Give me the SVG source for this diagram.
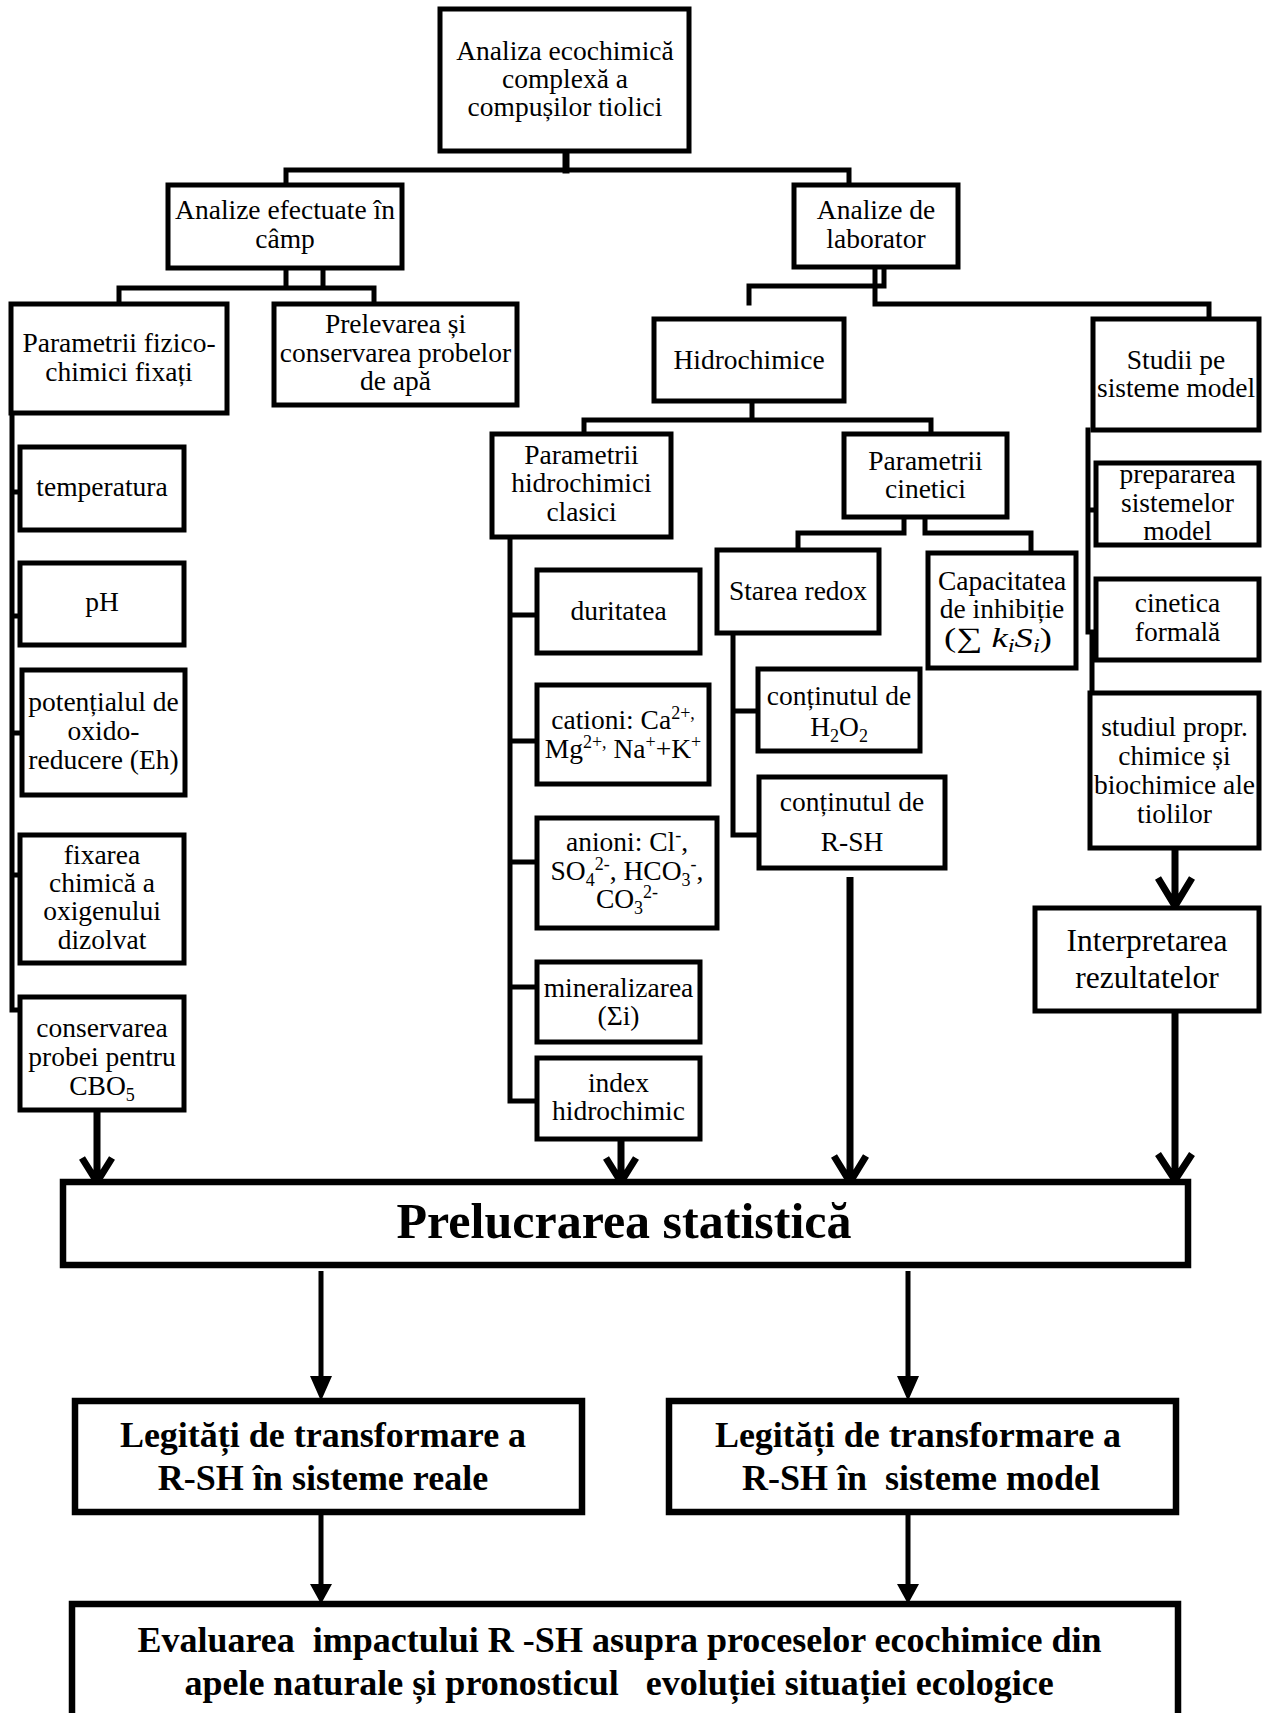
<svg xmlns="http://www.w3.org/2000/svg" width="1272" height="1713" viewBox="0 0 1272 1713">
<style>
.b{fill:#fff;stroke:#000;stroke-width:5}
.bb{fill:#fff;stroke:#000;stroke-width:6.5}
.c{fill:none;stroke:#000;stroke-width:5;stroke-linecap:square}
.a{fill:none;stroke:#000;stroke-width:7;stroke-linejoin:miter}
.a2{fill:none;stroke:#000;stroke-width:5}
.h{fill:#000;stroke:none}
text{font-family:"Liberation Serif","Times New Roman",serif;font-size:27.5px;text-anchor:middle;fill:#000}
.bt{font-weight:bold;font-size:36px}
.big{font-weight:bold;font-size:50px}
.s{font-size:18px}
.it{font-style:italic}
</style>
<rect width="1272" height="1713" fill="#fff"/>

<g id="connectors">
<path class="c" d="M566,151V170" style="stroke-width:7"/>
<path class="c" d="M286,170H849 M286,170V185 M849,170V185"/>
<path class="c" d="M286,268V288 M323,268V288 M119,288H374 M119,288V304 M374,288V304"/>
<path class="c" d="M884,267V286 M749,286H884 M749,286V303 M875,267V304 M875,304H1209 M1209,304V319"/>
<path class="c" d="M12,413V1010 M12,492H20 M12,616H20 M12,733H22 M12,875H20 M12,1010H20"/>
<path class="c" d="M752,401V420 M584,420H931 M584,420V434 M931,420V434"/>
<path class="c" d="M510,537V1101 M510,615H537 M510,741H537 M510,862H537 M510,987H537 M510,1101H537"/>
<path class="c" d="M904,517V533 M798,533H904 M798,533V550 M925,517V533 M925,533H1031 M1031,533V553"/>
<path class="c" d="M733,633V835 M733,711H758 M733,835H759"/>
<path class="c" d="M1088,430V632 M1088,510H1096 M1088,632H1096 M1092,632V693"/>
<path class="a" d="M97,1110V1180 M82,1158L97,1182L112,1158"/>
<path class="a" d="M621,1139V1180 M606,1158L621,1182L636,1158"/>
<path class="a" d="M850,877V1180 M834,1156L850,1182L866,1156"/>
<path class="a" d="M1175,848V904 M1158,878L1175,906L1192,878"/>
<path class="a" d="M1175,1011V1180 M1158,1154L1175,1180L1192,1154"/>
<path class="a2" d="M321,1271V1380 M908,1271V1380 M321,1512V1588 M908,1512V1588"/>
<path class="h" d="M310,1376H332L321,1401Z M897,1376H919L908,1401Z M310,1584H332L321,1604Z M897,1584H919L908,1604Z"/>
</g>

<g id="n-root"><rect class="b" x="440" y="9" width="249" height="142"/>
<text x="565" y="60">Analiza ecochimică</text><text x="565" y="88">complexă a</text><text x="565" y="116">compușilor tiolici</text></g>

<g id="n-camp"><rect class="b" x="168" y="185" width="234" height="83"/>
<text x="285" y="219">Analize efectuate în</text><text x="285" y="248">câmp</text></g>

<g id="n-lab"><rect class="b" x="794" y="185" width="164" height="82"/>
<text x="876" y="219">Analize de</text><text x="876" y="248">laborator</text></g>

<g id="n-fizico"><rect class="b" x="11" y="304" width="216" height="109"/>
<text x="119" y="352">Parametrii fizico-</text><text x="119" y="381">chimici fixați</text></g>

<g id="n-prelevare"><rect class="b" x="274" y="304" width="243" height="101"/>
<text x="395.5" y="333">Prelevarea și</text><text x="395.5" y="362">conservarea probelor</text><text x="395.5" y="390">de apă</text></g>

<g id="n-hidro"><rect class="b" x="654" y="319" width="190" height="82"/>
<text x="749" y="369">Hidrochimice</text></g>

<g id="n-studii"><rect class="b" x="1093" y="319" width="166" height="111"/>
<text x="1176" y="369">Studii pe</text><text x="1176" y="397">sisteme model</text></g>

<g id="n-clasici"><rect class="b" x="492" y="434" width="179" height="103"/>
<text x="581.5" y="464">Parametrii</text><text x="581.5" y="492">hidrochimici</text><text x="581.5" y="521">clasici</text></g>

<g id="n-cinetici"><rect class="b" x="844" y="434" width="163" height="83"/>
<text x="925.5" y="470">Parametrii</text><text x="925.5" y="498">cinetici</text></g>

<g id="n-redox"><rect class="b" x="717" y="550" width="162" height="83"/>
<text x="798" y="600">Starea redox</text></g>

<g id="n-inhib"><rect class="b" x="928" y="553" width="148" height="115"/>
<text x="1002" y="590">Capacitatea</text><text x="1002" y="618">de inhibiție</text>
<text x="998" y="647" style="font-size:28px" textLength="108" lengthAdjust="spacingAndGlyphs">(∑ <tspan class="it">k</tspan><tspan class="it" style="font-size:19px" dy="5">i</tspan><tspan class="it" dy="-5">S</tspan><tspan class="it" style="font-size:19px" dy="5">i</tspan><tspan dy="-5">)</tspan></text></g>

<g id="n-prep"><rect class="b" x="1096" y="463" width="163" height="82"/>
<text x="1177.5" y="483">prepararea</text><text x="1177.5" y="512">sistemelor</text><text x="1177.5" y="540">model</text></g>

<g id="n-cinform"><rect class="b" x="1096" y="579" width="163" height="81"/>
<text x="1177.5" y="612">cinetica</text><text x="1177.5" y="641">formală</text></g>

<g id="n-studiul"><rect class="b" x="1090" y="693" width="169" height="155"/>
<text x="1174.5" y="736">studiul propr.</text><text x="1174.5" y="765">chimice și</text><text x="1174.5" y="794">biochimice ale</text><text x="1174.5" y="823">tiolilor</text></g>

<g id="n-interp"><rect class="b" x="1035" y="908" width="224" height="103"/>
<text x="1147" y="951" style="font-size:31.5px">Interpretarea</text><text x="1147" y="988" style="font-size:31.5px">rezultatelor</text></g>

<g id="n-temp"><rect class="b" x="20" y="447" width="164" height="83"/>
<text x="102" y="496">temperatura</text></g>

<g id="n-ph"><rect class="b" x="20" y="563" width="164" height="82"/>
<text x="102" y="611">pH</text></g>

<g id="n-eh"><rect class="b" x="22" y="670" width="163" height="125"/>
<text x="103.5" y="711">potențialul de</text><text x="103.5" y="740">oxido-</text><text x="103.5" y="769">reducere (Eh)</text></g>

<g id="n-oxigen"><rect class="b" x="20" y="835" width="164" height="128"/>
<text x="102" y="864">fixarea</text><text x="102" y="892">chimică a</text><text x="102" y="920">oxigenului</text><text x="102" y="949">dizolvat</text></g>

<g id="n-cbo"><rect class="b" x="20" y="997" width="164" height="113"/>
<text x="102" y="1037">conservarea</text><text x="102" y="1066">probei pentru</text>
<text x="102" y="1095">CBO<tspan class="s" dy="6">5</tspan></text></g>

<g id="n-duritate"><rect class="b" x="537" y="570" width="163" height="83"/>
<text x="618.5" y="620">duritatea</text></g>

<g id="n-cationi"><rect class="b" x="537" y="685" width="172" height="99"/>
<text x="623" y="729">cationi: Ca<tspan class="s" dy="-10">2+,</tspan></text>
<text x="623" y="758">Mg<tspan class="s" dy="-10">2+,</tspan><tspan dy="10"> Na</tspan><tspan class="s" dy="-10">+</tspan><tspan dy="10">+K</tspan><tspan class="s" dy="-10">+</tspan></text></g>

<g id="n-anioni"><rect class="b" x="537" y="818" width="180" height="110"/>
<text x="627" y="851">anioni: Cl<tspan class="s" dy="-10">-</tspan><tspan dy="10">,</tspan></text>
<text x="627" y="880">SO<tspan class="s" dy="6">4</tspan><tspan class="s" dy="-16">2-</tspan><tspan dy="10">, HCO</tspan><tspan class="s" dy="6">3</tspan><tspan class="s" dy="-16">-</tspan><tspan dy="10">,</tspan></text>
<text x="627" y="908">CO<tspan class="s" dy="6">3</tspan><tspan class="s" dy="-16">2-</tspan></text></g>

<g id="n-mineral"><rect class="b" x="537" y="962" width="163" height="80"/>
<text x="618.5" y="997">mineralizarea</text><text x="618.5" y="1025">(Σi)</text></g>

<g id="n-index"><rect class="b" x="537" y="1058" width="163" height="81"/>
<text x="618.5" y="1092">index</text><text x="618.5" y="1120">hidrochimic</text></g>

<g id="n-h2o2"><rect class="b" x="758" y="669" width="162" height="82"/>
<text x="839" y="705">conținutul de</text><text x="839" y="736">H<tspan class="s" dy="6">2</tspan><tspan dy="-6">O</tspan><tspan class="s" dy="6">2</tspan></text></g>

<g id="n-rsh"><rect class="b" x="759" y="777" width="186" height="91"/>
<text x="852" y="811">conținutul de</text><text x="852" y="851">R-SH</text></g>

<g id="n-prelucrare"><rect class="bb" x="63" y="1182" width="1125" height="83"/>
<text class="big" x="624" y="1238">Prelucrarea statistică</text></g>

<g id="n-reale"><rect class="bb" x="75" y="1401" width="507" height="111"/>
<text class="bt" x="323" y="1447">Legități de transformare a</text><text class="bt" x="323" y="1490">R-SH în sisteme reale</text></g>

<g id="n-model"><rect class="bb" x="669" y="1401" width="507" height="111"/>
<text class="bt" x="918" y="1447">Legități de transformare a</text><text class="bt" x="921" y="1490" xml:space="preserve">R-SH în  sisteme model</text></g>

<g id="n-evaluare"><rect class="bb" x="72" y="1604" width="1106" height="113"/>
<text class="bt" x="619.5" y="1652" xml:space="preserve">Evaluarea  impactului R -SH asupra proceselor ecochimice din</text>
<text class="bt" x="619" y="1695" xml:space="preserve">apele naturale și pronosticul   evoluției situației ecologice</text></g>
</svg>
